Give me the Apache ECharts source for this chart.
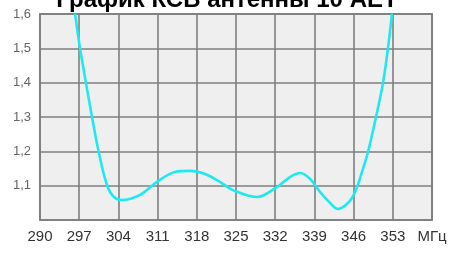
<!DOCTYPE html>
<html>
<head>
<meta charset="utf-8">
<script src="https://cdn.jsdelivr.net/npm/echarts@6/dist/echarts.min.js"></script>
<style>
  html, body { margin: 0; padding: 0; background: #fff; }
  #chart { width: 454px; height: 255px; }
</style>
</head>
<body>
<div id="chart"></div>
<script>
  // частоты (МГц) и КСВ
  var freq = [296.25, 297.14, 298.21, 299.29, 300.45, 301.96, 303.21, 304.64, 307.86, 310.89, 314.11, 316.79, 319.46, 322.14, 324.46, 328.75, 332.32, 334.64, 336.43, 338.21, 340.0, 341.79, 343.21, 344.64, 345.71, 346.61, 347.5, 348.57, 350.0, 351.25, 352.14, 352.86];
  var swr  = [1.601, 1.501, 1.399, 1.300, 1.201, 1.102, 1.067, 1.058, 1.073, 1.111, 1.140, 1.143, 1.134, 1.111, 1.087, 1.067, 1.096, 1.125, 1.137, 1.120, 1.082, 1.050, 1.032, 1.044, 1.064, 1.096, 1.140, 1.198, 1.300, 1.399, 1.501, 1.601];
  var xTicks = ['290', '297', '304', '311', '318', '325', '332', '339', '346', '353', 'МГц'];
  var xStart = 290;

  var pts = [];
  for (var i = 0; i < freq.length; i++) {
    pts.push([freq[i] - xStart, swr[i]]);
  }

  var chart = echarts.init(document.getElementById('chart'));
  chart.setOption({
    backgroundColor: '#ffffff',
    animation: false,
    title: {
      text: 'График КСВ антенны 10 AET',
      left: 'center',
      top: -17,
      textStyle: {
        fontFamily: 'Liberation Sans',
        fontWeight: 'bold',
        fontSize: 24,
        color: '#000'
      }
    },
    grid: {
      left: 40,
      right: 22,
      top: 14,
      bottom: 35,
      show: true,
      backgroundColor: '#efefef',
      borderColor: '#8a8a8a',
      borderWidth: 2
    },
    xAxis: {
      type: 'value',
      min: 0,
      max: 70,
      interval: 7,
      axisLine: { show: false },
      axisTick: { show: false },
      axisLabel: {
        margin: 9,
        fontFamily: 'Liberation Sans',
        fontSize: 15,
        color: '#333',
        showMaxLabel: true,
        formatter: function (v) {
          return xTicks[Math.round(v / 7)];
        }
      },
      splitLine: { lineStyle: { color: '#7f7f7f', width: 1.6 } }
    },
    yAxis: {
      type: 'value',
      min: 1.0,
      max: 1.6,
      interval: 0.1,
      axisLine: { show: false },
      axisTick: { show: false },
      axisLabel: {
        margin: 9,
        fontFamily: 'Liberation Sans',
        fontSize: 13,
        color: '#666',
        showMinLabel: false,
        formatter: function (v) {
          return v.toFixed(1).replace('.', ',');
        }
      },
      splitLine: { lineStyle: { color: '#7f7f7f', width: 1.6 } }
    },
    series: [{
      type: 'line',
      data: pts,
      smooth: 0.35,
      symbol: 'none',
      lineStyle: { color: '#1fe9f0', width: 2.6 }
    }]
  });
</script>
</body>
</html>
